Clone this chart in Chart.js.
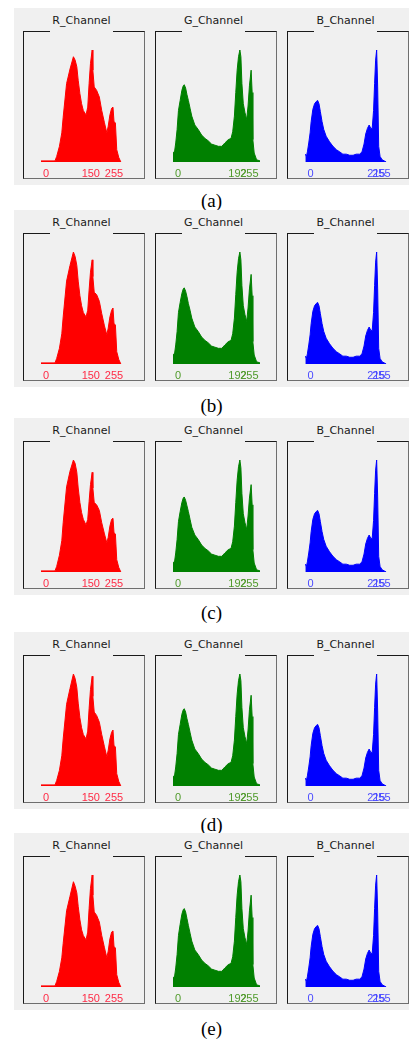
<!DOCTYPE html>
<html>
<head>
<meta charset="utf-8">
<script src="https://cdn.jsdelivr.net/npm/chart.js@4.4.1/dist/chart.umd.min.js"></script>
<style>
  body { margin: 0; background: #fff; width: 409px; height: 1044px; position: relative; overflow: hidden; }
  .row { position: absolute; width: 395px; height: 177px; background: #f0f0f0; }
  .box { position: absolute; top: 23px; width: 120px; height: 146px; border: 1px solid; border-color: #1a1a1a #6e6e6e #6e6e6e #1a1a1a; }
  .ttl { position: absolute; left: 26px; top: -18px; width: 63px; height: 19px; line-height: 14px; background: #f0f0f0;
         text-align: center; font: 11px "DejaVu Sans", sans-serif; color: #1a1a1a; white-space: nowrap; }
  .box canvas { position: absolute; left: 0; top: 0; }
  .cap { position: absolute; left: 14px; width: 395px; height: 20px; line-height: 20px; text-align: center;
         font: 19px "Liberation Serif", "Times New Roman", serif; color: #000; }
</style>
</head>
<body>
<script>
// intensity positions where the histogram heights were read (0..255)
const rX = [0, 41, 46, 54, 61, 65, 75, 85, 95, 100, 105, 109, 114, 119, 124, 132, 137, 141, 145, 150, 152, 156, 163, 171, 178, 186, 193, 197, 202, 207, 211, 214, 218, 222, 228, 234];
const gX = [0, 4, 8, 12, 16, 21, 26, 30, 33, 37, 41, 45, 50, 55, 64, 74, 84, 94, 103, 113, 123, 133, 143, 152, 162, 170, 175, 180, 184, 188, 192, 196, 199, 202, 206, 211, 216, 220, 224, 229, 232, 234, 238, 245, 255];
const bX = [1, 4, 7, 11, 15, 18, 23, 28, 33, 37, 41, 45, 50, 55, 62, 72, 82, 92, 102, 111, 121, 131, 141, 150, 160, 167, 173, 178, 183, 188, 193, 197, 201, 204, 207, 210, 213, 216, 220, 226, 238];

// heights, % of the tallest bin, per row
const rYa = [1, 1, 5, 14, 26, 40, 70, 83, 94, 91, 85, 73, 61, 52, 46, 42, 49, 70, 88, 100, 82, 67, 64, 58, 46, 35, 26, 32, 42, 48, 49, 36, 35, 11, 4, 0];
const rYb = [1, 1, 5, 14, 27, 42, 74, 88, 100, 96, 88, 74, 61, 52, 46, 42, 48, 66, 82, 93, 78, 64, 62, 56, 45, 34, 26, 32, 42, 48, 50, 36, 35, 11, 4, 0];
const rYc = [1, 1, 5, 15, 28, 44, 76, 90, 100, 97, 89, 75, 62, 53, 47, 42, 47, 63, 78, 89, 75, 62, 60, 55, 44, 34, 26, 31, 41, 47, 48, 35, 34, 11, 4, 0];
const rYd = [1, 1, 5, 14, 27, 42, 73, 87, 100, 96, 88, 74, 61, 52, 46, 42, 49, 69, 86, 98, 80, 66, 63, 57, 46, 35, 26, 32, 42, 48, 50, 36, 35, 11, 4, 0];
const rYe = [1, 1, 5, 14, 26, 39, 68, 81, 94, 90, 84, 72, 60, 51, 46, 42, 49, 70, 88, 100, 82, 67, 64, 58, 46, 35, 26, 32, 43, 49, 50, 36, 35, 11, 4, 0];
const gYa = [9, 8, 17, 29, 46, 55, 64, 68, 69, 66, 60, 55, 48, 41, 33, 29, 24, 21, 19, 16, 15, 14, 14, 17, 20, 21, 27, 41, 62, 82, 94, 100, 94, 70, 52, 44, 38, 50, 68, 82, 62, 20, 8, 2, 1];
const gYb = [9, 8, 17, 29, 46, 55, 63, 67, 68, 65, 60, 54, 48, 41, 33, 29, 24, 21, 19, 16, 15, 14, 14, 17, 20, 21, 27, 41, 62, 82, 94, 100, 93, 70, 52, 44, 38, 50, 67, 80, 61, 20, 8, 2, 1];
const gYc = [9, 8, 17, 29, 45, 54, 62, 66, 67, 64, 59, 54, 47, 40, 33, 29, 24, 21, 19, 16, 15, 14, 14, 17, 20, 21, 27, 41, 62, 82, 94, 100, 93, 70, 52, 44, 38, 50, 66, 78, 60, 20, 8, 2, 1];
const gYd = [9, 8, 17, 29, 46, 55, 64, 68, 69, 66, 60, 55, 48, 41, 33, 29, 24, 21, 19, 16, 15, 14, 14, 17, 20, 21, 27, 41, 62, 82, 94, 100, 94, 70, 52, 44, 38, 50, 68, 81, 62, 20, 8, 2, 1];
const gYe = [9, 8, 17, 29, 46, 56, 65, 69, 70, 67, 61, 55, 48, 41, 33, 29, 24, 21, 19, 16, 15, 14, 14, 17, 20, 21, 27, 41, 62, 82, 94, 100, 94, 70, 52, 44, 38, 50, 68, 82, 62, 20, 8, 2, 1];
const bYa = [7, 5, 9, 17, 26, 36, 47, 52, 54, 55, 52, 45, 36, 29, 23, 18, 14, 11, 9, 7, 7, 6, 6, 7, 7, 9, 16, 25, 30, 33, 30, 30, 46, 70, 91, 100, 67, 14, 5, 2, 0];
const bYb = bYa, bYc = bYa, bYd = bYa, bYe = bYa;

// tick labels as drawn under each histogram
const rTickPos = [15, 146, 214], rTickText = ['0', '150', '255'];
const gTickPos = [15, 189, 224], gTickText = ['0', '192', '255'];
const bTickPos = [16, 209, 224], bTickText = ['0', '215', '255'];

const captions = ['(a)', '(b)', '(c)', '(d)', '(e)'];
const rowTop = [8, 210, 418, 632, 833];
const rowLeft = [14, 14, 14, 14, 14];
const capY = [200, 405, 612, 824, 1028];

const rRows = [rYa, rYb, rYc, rYd, rYe];
const gRows = [gYa, gYb, gYc, gYd, gYe];
const bRows = [bYa, bYb, bYc, bYd, bYe];

const channels = [
  { name: 'R_Channel', x: rX, rows: rRows, color: '#ff0000', tick: '#ff2a45', pos: rTickPos, text: rTickText, left: 9 },
  { name: 'G_Channel', x: gX, rows: gRows, color: '#008000', tick: '#4f9a2a', pos: gTickPos, text: gTickText, left: 141 },
  { name: 'B_Channel', x: bX, rows: bRows, color: '#0000ff', tick: '#4b4bff', pos: bTickPos, text: bTickText, left: 273 },
];

function drawHist(canvas, ch, ys) {
  new Chart(canvas, {
    type: 'line',
    data: {
      datasets: [{
        data: ch.x.map((x, i) => ({ x: x, y: ys[i] })),
        fill: 'origin',
        backgroundColor: ch.color,
        borderColor: ch.color,
        borderWidth: 1,
        pointRadius: 0,
        tension: 0,
      }],
    },
    options: {
      responsive: false,
      animation: false,
      events: [],
      layout: { padding: { left: 17, right: 16, top: 18, bottom: 0 } },
      plugins: { legend: { display: false }, tooltip: { enabled: false } },
      scales: {
        x: {
          type: 'linear', min: 0, max: 255,
          grid: { display: false, drawTicks: false },
          border: { display: false },
          afterBuildTicks: (s) => { s.ticks = ch.pos.map((v) => ({ value: v })); },
          afterFit: (s) => { s.height = 16; },
          ticks: {
            color: ch.tick, padding: 5, maxRotation: 0, autoSkip: false,
            font: { family: '"Liberation Sans", Arial, sans-serif', size: 11 },
            callback: (v, i) => ch.text[i],
          },
        },
        y: { display: false, min: 0, max: 100 },
      },
    },
  });
}

captions.forEach((cap, r) => {
  const row = document.createElement('div');
  row.className = 'row';
  row.style.left = rowLeft[r] + 'px';
  row.style.top = rowTop[r] + 'px';
  document.body.appendChild(row);

  channels.forEach((ch) => {
    const box = document.createElement('div');
    box.className = 'box';
    box.style.left = ch.left + 'px';
    const ttl = document.createElement('span');
    ttl.className = 'ttl';
    ttl.textContent = ch.name;
    box.appendChild(ttl);
    const cv = document.createElement('canvas');
    cv.width = 120;
    cv.height = 146;
    box.appendChild(cv);
    row.appendChild(box);
    drawHist(cv, ch, ch.rows[r]);
  });

  const c = document.createElement('div');
  c.className = 'cap';
  c.style.top = (capY[r] - 10) + 'px';
  c.textContent = cap;
  document.body.appendChild(c);
});
</script>
</body>
</html>
